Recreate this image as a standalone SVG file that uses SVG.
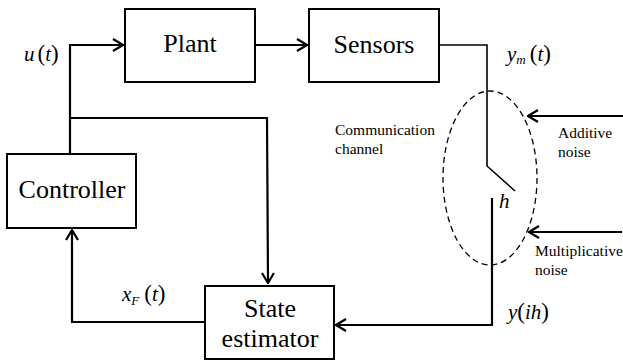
<svg xmlns="http://www.w3.org/2000/svg" width="623" height="360" viewBox="0 0 623 360">
<defs>
<marker id="ah" viewBox="0 0 12 14" refX="11" refY="7" markerWidth="12" markerHeight="14" markerUnits="userSpaceOnUse" orient="auto">
<path d="M1,1 L11,7 L1,13" fill="none" stroke="#000" stroke-width="2.2"/>
</marker>
<style>
.box{fill:#fff;stroke:#000;stroke-width:2}
.ln{fill:none;stroke:#000;stroke-width:2.2}
.thin{fill:none;stroke:#000;stroke-width:1.6}
text{font-family:'Liberation Serif','Times New Roman','DejaVu Serif',serif;fill:#000}
.big{font-size:26px}
.sm{font-size:15.5px}
.m{font-size:21px;font-style:italic}
.sub{font-size:13px}
.par{font-style:normal;font-size:23px}
</style>
</defs>
<rect width="623" height="360" fill="#fff"/>
<g id="connectors">
<polyline class="ln" points="70,154 70,45 123,45" marker-end="url(#ah)"/>
<line class="ln" x1="255" y1="45" x2="307" y2="45" marker-end="url(#ah)"/>
<polyline class="ln" points="70,118 267,118 268,283" marker-end="url(#ah)"/>
<polyline class="ln" points="205,322 72,322 72,230" marker-end="url(#ah)"/>
<polyline class="thin" points="439,45 487,45 487,166 515,191"/>
<polyline class="ln" points="492,198 492,325 336,325" marker-end="url(#ah)"/>
<line class="ln" x1="623" y1="116" x2="528" y2="116" marker-end="url(#ah)"/>
<line class="ln" x1="622" y1="232" x2="529" y2="232" marker-end="url(#ah)"/>
<ellipse cx="490" cy="178" rx="47" ry="87" fill="none" stroke="#000" stroke-width="1.3" stroke-dasharray="6,4"/>
</g>
<g id="plant">
<rect class="box" x="125" y="9" width="130" height="73"/>
<text class="big" x="190" y="52" text-anchor="middle">Plant</text>
</g>
<g id="sensors">
<rect class="box" x="309" y="9" width="130" height="73"/>
<text class="big" x="374" y="53" text-anchor="middle">Sensors</text>
</g>
<g id="controller">
<rect class="box" x="7" y="154" width="129" height="74"/>
<text class="big" x="72" y="198" text-anchor="middle">Controller</text>
</g>
<g id="state-estimator">
<rect class="box" x="205" y="286" width="129" height="73"/>
<text class="big" x="270" y="317" text-anchor="middle">State</text>
<text class="big" x="270" y="347" text-anchor="middle">estimator</text>
</g>
<g id="labels">
<text class="m" x="24" y="61">u<tspan class="par" dx="3">(</tspan>t<tspan class="par">)</tspan></text>
<text class="m" x="507" y="61">y<tspan class="sub" dy="3">m</tspan><tspan class="par" dy="-3" dx="4">(</tspan>t<tspan class="par">)</tspan></text>
<text class="m" x="122" y="301">x<tspan class="sub" dy="4">F</tspan><tspan class="par" dy="-4" dx="5">(</tspan>t<tspan class="par">)</tspan></text>
<text class="m" x="508" y="319">y<tspan class="par">(</tspan>ih<tspan class="par">)</tspan></text>
<text class="m" x="499" y="208">h</text>
<text class="sm" x="335" y="135">Communication</text>
<text class="sm" x="335" y="154">channel</text>
<text class="sm" x="558" y="138">Additive</text>
<text class="sm" x="558" y="157">noise</text>
<text class="sm" x="535" y="256">Multiplicative</text>
<text class="sm" x="535" y="275">noise</text>
</g>
</svg>
